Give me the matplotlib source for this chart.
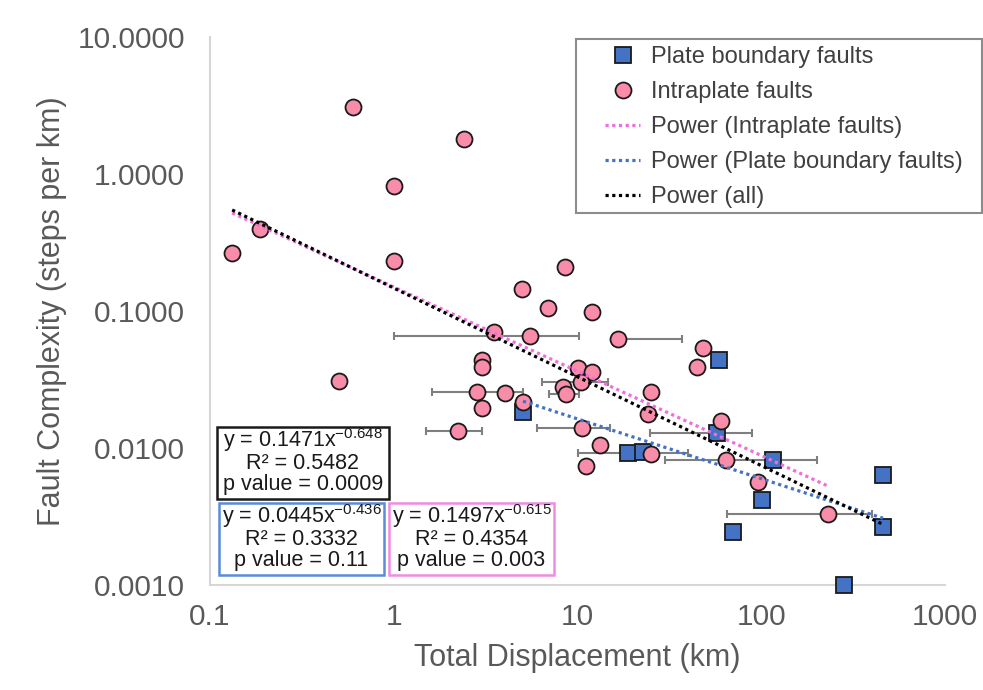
import matplotlib
matplotlib.use('Agg')
import matplotlib.pyplot as plt
from matplotlib.patches import Rectangle

plt.rcParams['font.family'] = ['Liberation Sans', 'DejaVu Sans']
plt.rcParams['mathtext.fontset'] = 'custom'
plt.rcParams['mathtext.rm'] = 'Liberation Sans'

# plate boundary faults (squares)
plate_x = [58.9, 5.05, 18.8, 22.7, 57.4, 116, 101, 70.2, 460, 460, 282]
plate_y = [0.0439, 0.0183, 0.0092, 0.0094, 0.0129, 0.00817, 0.0042, 0.00244,
           0.00635, 0.00265, 0.0010]

# intraplate faults (circles)
intra_x = [0.187, 0.132, 0.60, 2.41, 1.0, 1.0, 0.503, 8.55, 4.99, 6.9, 12.0,
           3.52, 5.5, 16.6, 48.2, 44.7, 3.02, 3.02, 2.84, 4.03, 3.02, 5.05,
           2.24, 10.1, 12.0, 10.4, 8.34, 8.65, 25.1, 24.2, 10.6, 13.2, 11.1,
           25.1, 60.4, 64.3, 96, 231]
intra_y = [0.40, 0.265, 3.08, 1.80, 0.82, 0.232, 0.0308, 0.21, 0.145, 0.105,
           0.098, 0.070, 0.0658, 0.0625, 0.0537, 0.039, 0.0439, 0.039, 0.0256,
           0.0252, 0.0196, 0.0217, 0.0133, 0.0384, 0.0359, 0.0303, 0.0279,
           0.0248, 0.0256, 0.0177, 0.014, 0.0105, 0.0074, 0.00904, 0.0157,
           0.00817, 0.00565, 0.0033]

# horizontal error bars (displacement ranges)
err_x = [5.5, 16.6, 10.4, 8.65, 2.84, 2.24, 10.6, 18.8, 57.4, 116, 231]
err_y = [0.0658, 0.0625, 0.0303, 0.0248, 0.0256, 0.0133, 0.014, 0.0092,
         0.0129, 0.00817, 0.0033]
err_left = [1.0, 15.5, 6.4, 7.0, 1.61, 1.5, 6.03, 10.1, 24.8, 29.9, 65.2]
err_right = [10.2, 37, 14.7, 10.2, 5.05, 3.02, 15.0, 39.9, 89, 201, 401]

# power-law fits: (coefficient, exponent)
fit_all = (0.1471, -0.648)
fit_intra = (0.1497, -0.615)
fit_plate = (0.0445, -0.436)

x_ticks = [0.1, 1, 10, 100, 1000]
x_ticklabels = ['0.1', '1', '10', '100', '1000']
y_ticks = [0.001, 0.01, 0.1, 1, 10]
y_ticklabels = ['0.0010', '0.0100', '0.1000', '1.0000', '10.0000']

W, H = 983, 690
fig = plt.figure(figsize=(W / 100, H / 100), dpi=100)
ax = fig.add_axes([210 / W, 1 - 585 / H, 735 / W, 548 / H])
ax.set_xscale('log')
ax.set_yscale('log')
ax.set_xlim(0.1, 1000)
ax.set_ylim(0.001, 10)
ax.set_xticks(x_ticks)
ax.set_xticklabels(x_ticklabels)
ax.set_yticks(y_ticks)
ax.set_yticklabels(y_ticklabels)
ax.minorticks_off()
ax.tick_params(length=0, labelsize=21.5, colors='#595959')
ax.tick_params(axis='y', pad=18)
ax.tick_params(axis='x', pad=13)
for s in ['top', 'right']:
    ax.spines[s].set_visible(False)
for s in ['left', 'bottom']:
    ax.spines[s].set_color('#d6d6d6')
    ax.spines[s].set_linewidth(1.5)
ax.set_xlabel('Total Displacement (km)', fontsize=22, color='#595959')
ax.set_ylabel('Fault Complexity (steps per km)', fontsize=22, color='#595959')
ax.xaxis.set_label_coords(0.5, -0.105)
ax.yaxis.set_label_coords(-0.195, 0.5)

xl = [a - l for a, l in zip(err_x, err_left)]
xr = [r - a for a, r in zip(err_x, err_right)]
ax.errorbar(err_x, err_y, xerr=[xl, xr], fmt='none', ecolor='#7f7f7f',
            elinewidth=1.5, capsize=3, capthick=1.5, zorder=2)

sq, = ax.plot(plate_x, plate_y, 's', ms=11.5, mfc='#4472C4', mec='#1a1a1a',
              mew=1.3, zorder=3, clip_on=False)
ci, = ax.plot(intra_x, intra_y, 'o', ms=11.5, mfc='#F98CA9', mec='#1a1a1a',
              mew=1.3, zorder=4, clip_on=False)


def fit_line(fit, xs, color):
    a, b = fit
    x0, x1 = min(xs), max(xs)
    ln, = ax.plot([x0, x1], [a * x0 ** b, a * x1 ** b], color=color, lw=2.3,
                  ls=(0, (1, 1.1)), zorder=5)
    return ln


l_plate = fit_line(fit_plate, plate_x, '#4472C4')
l_intra = fit_line(fit_intra, intra_x, '#F06EDC')
l_all = fit_line(fit_all, plate_x + intra_x, 'black')

# legend
fig.add_artist(Rectangle((576 / W, 1 - 213 / H), 406 / W, 174 / H,
                         transform=fig.transFigure, fill=False,
                         ec='#8c8c8c', lw=1.5))
fig.legend([sq, ci, l_intra, l_plate, l_all],
           ['Plate boundary faults', 'Intraplate faults',
            'Power (Intraplate faults)', 'Power (Plate boundary faults)',
            'Power (all)'],
           loc='upper left', bbox_to_anchor=(605 / W, 1 - 46 / H),
           frameon=False, fontsize=17, borderpad=0, borderaxespad=0,
           handlelength=1.5, handletextpad=0.45, labelspacing=0.55,
           labelcolor='#404040')

# equation boxes (y of the last text line's baseline)
boxes = [
    ((217, 427, 389, 499), '#1a1a1a', 490,
     ['y = 0.1471x$^{\\mathregular{-0.648}}$', 'R² = 0.5482', 'p value = 0.0009']),
    ((219, 503, 384, 575), '#5B8BD9', 566,
     ['y = 0.0445x$^{\\mathregular{-0.436}}$', 'R² = 0.3332', 'p value = 0.11']),
    ((389, 503, 554, 575), '#EE8CE2', 566,
     ['y = 0.1497x$^{\\mathregular{-0.615}}$', 'R² = 0.4354', 'p value = 0.003']),
]
for (x0, y0, x1, y1), ec, yb, lines in boxes:
    fig.add_artist(Rectangle((x0 / W, 1 - y1 / H), (x1 - x0) / W, (y1 - y0) / H,
                             transform=fig.transFigure, fc='white', ec=ec,
                             lw=1.8, zorder=6))
    fig.text((x0 + x1) / 2 / W, 1 - yb / H, '\n'.join(lines), ha='center',
             va='baseline', multialignment='center', linespacing=0.98,
             fontsize=15.5, color='#1a1a1a', zorder=7)

fig.savefig('out.png', dpi=100)
